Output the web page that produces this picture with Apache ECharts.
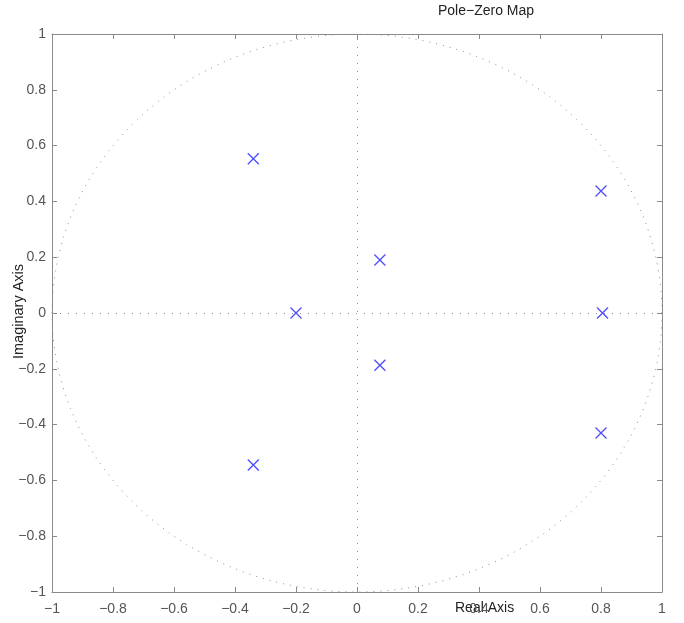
<!DOCTYPE html>
<html>
<head>
<meta charset="utf-8">
<script src="https://cdn.jsdelivr.net/npm/echarts@6/dist/echarts.min.js"></script>
<style>
  html, body { margin: 0; padding: 0; background: #fff; }
  #chart { width: 684px; height: 623px; }
</style>
</head>
<body>
<div id="chart"></div>
<script>
// poles (real, imaginary)
const poleRe = [-0.34, -0.2, 0.075, 0.075, -0.34, 0.8, 0.805, 0.8]
const poleIm = [0.553, 0, 0.19, -0.187, -0.545, 0.437, 0, -0.43]

const axisTicks = [-1, -0.8, -0.6, -0.4, -0.2, 0, 0.2, 0.4, 0.6, 0.8, 1]

// unit circle reference (geometry, not data)
const circleSteps = 180
const unitCircle = []
for (let i = 0; i <= circleSteps; i++) {
  const a = (i / circleSteps) * Math.PI * 2
  unitCircle.push([Math.cos(a), Math.sin(a)])
}

const fmt = v => (v < 0 ? '\u2212' : '') + Math.abs(v).toString()
const FONT = "'Liberation Sans', Arial, sans-serif"
const AXIS_GRAY = '#8a8a8a'

const chart = echarts.init(document.getElementById('chart'))

const baseAxis = {
  type: 'value',
  min: -1,
  max: 1,
  interval: 0.2,
  splitLine: { show: false },
  axisLine: { show: true, onZero: false, lineStyle: { color: AXIS_GRAY, width: 1 } },
  axisTick: { show: true, inside: true, length: 5, lineStyle: { color: AXIS_GRAY } }
}

const option = {
  animation: false,
  backgroundColor: '#fff',
  grid: { left: 52, right: 22, top: 34, bottom: 31 },
  xAxis: [
    Object.assign({}, baseAxis, {
      position: 'bottom',
      axisLabel: { color: '#555', fontSize: 14, fontFamily: FONT, margin: 10, formatter: fmt }
    }),
    Object.assign({}, baseAxis, { position: 'top', axisLabel: { show: false } })
  ],
  yAxis: [
    Object.assign({}, baseAxis, {
      position: 'left',
      axisLabel: { color: '#555', fontSize: 14, fontFamily: FONT, margin: 6, formatter: fmt }
    }),
    Object.assign({}, baseAxis, { position: 'right', axisLabel: { show: false } })
  ],
  graphic: [
    {
      type: 'text', left: 438, top: 4,
      style: { text: 'Pole\u2212Zero Map', fill: '#222', font: '14px ' + FONT }
    },
    {
      type: 'text', left: 455, top: 601,
      style: { text: 'Real Axis', fill: '#222', font: '14px ' + FONT }
    },
    {
      type: 'text', x: 11, y: 359, rotation: Math.PI / 2,
      style: { text: 'Imaginary Axis', fill: '#222', font: '14.5px ' + FONT }
    }
  ],
  series: [
    {
      type: 'line',
      data: unitCircle,
      showSymbol: false,
      silent: true,
      lineStyle: { color: '#8f8f8f', width: 1, type: [1, 6] },
      markLine: {
        silent: true,
        symbol: 'none',
        label: { show: false },
        lineStyle: { color: '#8f8f8f', width: 1, type: [1, 7] },
        data: [{ xAxis: 0 }, { yAxis: 0 }]
      }
    },
    {
      type: 'scatter',
      data: poleRe.map((re, i) => [re, poleIm[i]]),
      symbol: 'path://M0,0L10,10M10,0L0,10',
      symbolSize: 11,
      itemStyle: { color: 'transparent', borderColor: '#2020ff', borderWidth: 1.3 }
    }
  ]
}

chart.setOption(option)
</script>
</body>
</html>
